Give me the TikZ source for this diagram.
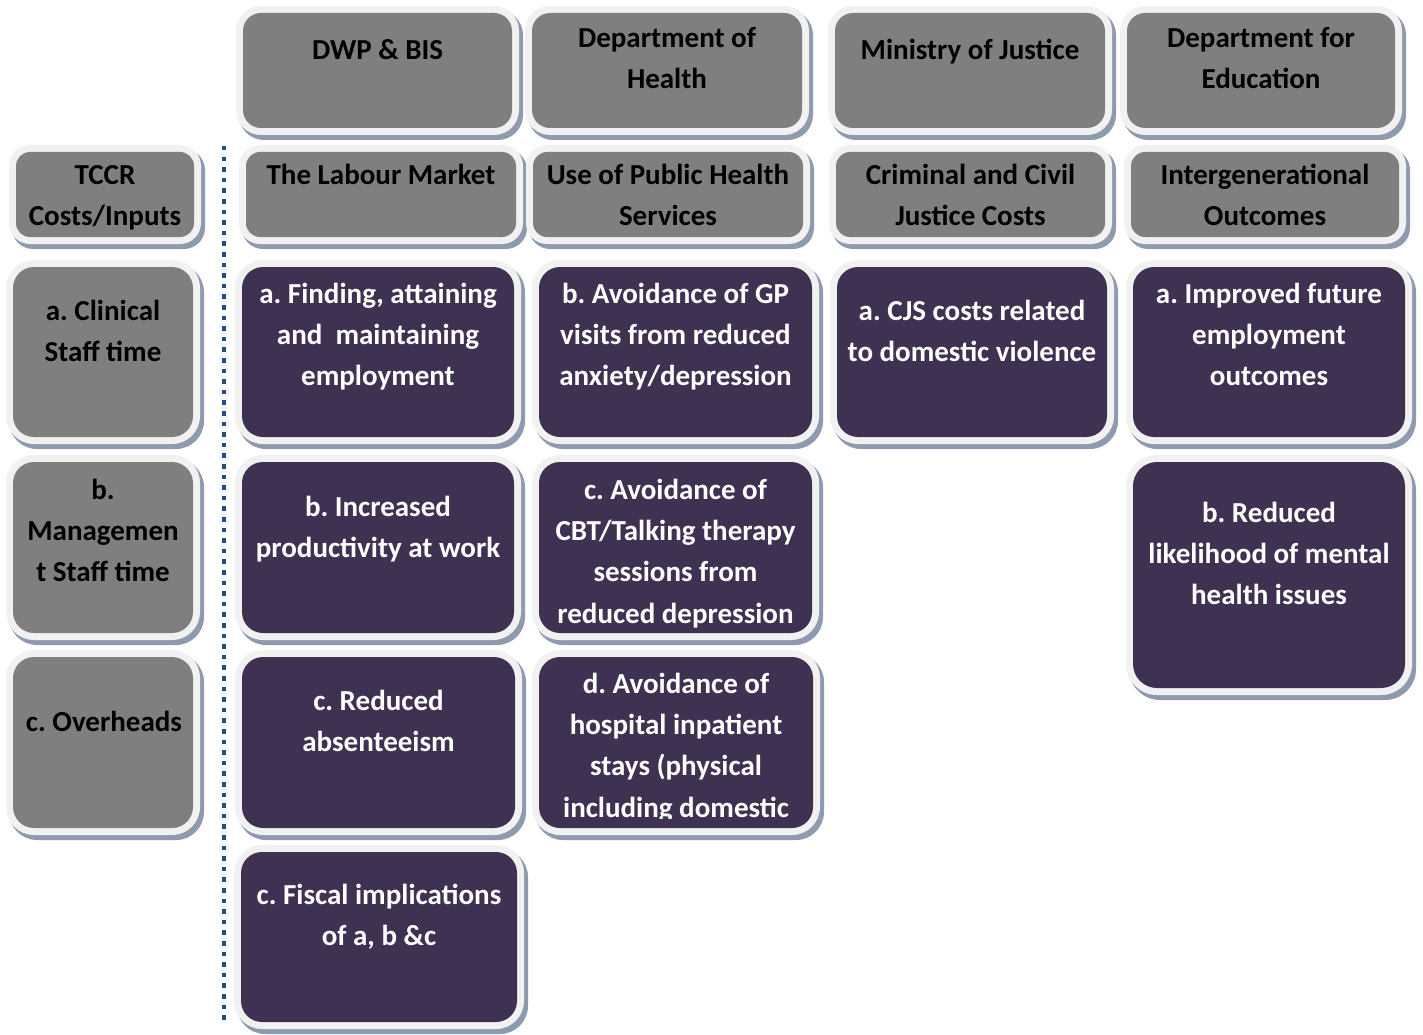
\documentclass[tikz,border=0pt]{standalone}
\usepackage{fontspec}
\setmainfont{Carlito}
\frenchspacing
\definecolor{framecol}{HTML}{F1F1F1}
\definecolor{shadowcol}{HTML}{8E9BAF}
\definecolor{grayfill}{HTML}{7F7F7F}
\definecolor{purplefill}{HTML}{3F3151}
\definecolor{dotcol}{HTML}{1F4E8A}
\tikzset{
  graybox/.style={fill=grayfill, inner sep=0pt, outer sep=0pt},
  purplebox/.style={fill=purplefill, inner sep=0pt, outer sep=0pt},
  celltext/.style={align=center, inner sep=0pt, anchor=north,
    font=\fontsize{29}{41.3}\selectfont\bfseries\frenchspacing},
  divider/.style={draw=dotcol, line width=4.5pt, dash pattern=on 4.5pt off 6.1pt}
}
% #1 name, #2 x1, #3 y1, #4 x2, #5 y2, #6 box style, #7 corner radius
\newcommand\mkcell[7]{%
  \pgfmathsetmacro\cbw{#4-(#2)}%
  \pgfmathsetmacro\cbh{#5-(#3)}%
  \pgfmathsetmacro\cbx{(#2+#4)/2}%
  \pgfmathsetmacro\cby{(#3+#5)/2}%
  \pgfmathsetmacro\cbr{#7+7}%
  \fill[shadowcol, rounded corners=\cbr pt] (#2-4,#3-3) rectangle (#4+11,#5+12);
  \fill[framecol, rounded corners=\cbr pt] (#2-7,#3-7) rectangle (#4+7,#5+7);
  \node[#6, rounded corners=#7pt, minimum width=\cbw pt, minimum height=\cbh pt] (#1) at (\cbx,\cby) {};
}
% #1 name, #2 x centre, #3 first baseline, #4 colour, #5 text
\newcommand\mktext[5]{%
  \node[celltext, text=#4] (#1) at (#2,#3-30) {\rule{0pt}{30pt}#5};
}
\begin{document}
\begin{tikzpicture}[x=1pt,y=-1pt]
\useasboundingbox (0,0) rectangle (1423,1035);
\fill[white] (0,0) rectangle (1423,1035);

% divider
\coordinate (dtop) at (224,146);
\coordinate (dbot) at (224,1024);
\draw[divider] (dtop) -- (dbot);

% row 0 : departments
\mkcell{h1}{243}{13}{512}{128}{graybox}{18}
\mkcell{h2}{532}{13}{802}{128}{graybox}{18}
\mkcell{h3}{835}{13}{1105}{128}{graybox}{18}
\mkcell{h4}{1127}{13}{1395}{128}{graybox}{18}
\mktext{th1}{377.5}{59}{black}{DWP \& BIS}
\mktext{th2}{667}{47}{black}{Department of\\Health}
\mktext{th3}{970}{59}{black}{Ministry of Justice}
\mktext{th4}{1261}{47}{black}{Department for\\Education}

% row 1 : categories
\mkcell{c0}{16}{152}{194}{237}{graybox}{14}
\mkcell{c1}{246}{152}{516}{237}{graybox}{14}
\mkcell{c2}{533}{152}{803}{237}{graybox}{14}
\mkcell{c3}{836}{152}{1105}{237}{graybox}{14}
\mkcell{c4}{1131}{152}{1399}{237}{graybox}{14}
\mktext{tc0}{105}{184}{black}{TCCR\\Costs/Inputs}
\mktext{tc1}{381}{184}{black}{The Labour Market}
\mktext{tc2}{668}{184}{black}{Use of Public Health\\Services}
\mktext{tc3}{970.5}{184}{black}{Criminal and Civil\\Justice Costs}
\mktext{tc4}{1265}{184}{black}{Intergenerational\\Outcomes}

% column 0 : inputs
\mkcell{g1}{13}{267}{193}{437}{graybox}{21}
\mkcell{g2}{13}{462}{193}{633}{graybox}{21}
\mkcell{g3}{13}{657}{193}{828}{graybox}{21}
\mktext{tg1}{103}{320}{black}{a. Clinical\\Staff time}
\mktext{tg2}{103}{499}{black}{b.\\Managemen\\t Staff time}
\mktext{tg3}{104}{731}{black}{c. Overheads}

% column 1 : labour market
\mkcell{p11}{242}{267}{514}{437}{purplebox}{21}
\mkcell{p12}{242}{462}{514}{633}{purplebox}{21}
\mkcell{p13}{242}{657}{515}{828}{purplebox}{21}
\mkcell{p14}{241}{852}{517}{1022}{purplebox}{21}
\mktext{tp11}{378}{303}{white}{a. Finding, attaining\\and\ \ maintaining\\employment}
\mktext{tp12}{378}{516}{white}{b. Increased\\productivity at work}
\mktext{tp13}{378.5}{710}{white}{c. Reduced\\absenteeism}
\mktext{tp14}{379}{904}{white}{c. Fiscal implications\\of a, b \&c}

% column 2 : public health services
\mkcell{p21}{539}{267}{812}{437}{purplebox}{21}
\mkcell{p22}{539}{462}{812}{633}{purplebox}{21}
\mkcell{p23}{539}{657}{813}{828}{purplebox}{21}
\mktext{tp21}{675.5}{303}{white}{b. Avoidance of GP\\visits from reduced\\anxiety/depression}
\mktext{tp22}{675.5}{499}{white}{c. Avoidance of\\CBT/Talking therapy\\sessions from\\reduced depression}
\begin{scope}
  \clip (539,657) rectangle (813,818);
  \mktext{tp23}{676}{693}{white}{d. Avoidance of\\hospital inpatient\\stays (physical\\including domestic}
\end{scope}

% column 3 : justice
\mkcell{p31}{837}{267}{1107}{437}{purplebox}{21}
\mktext{tp31}{972}{320}{white}{a. CJS costs related\\to domestic violence}

% column 4 : intergenerational
\mkcell{p41}{1133}{267}{1405}{437}{purplebox}{21}
\mkcell{p42}{1133}{462}{1405}{688}{purplebox}{24}
\mktext{tp41}{1269}{303}{white}{a. Improved future\\employment\\outcomes}
\mktext{tp42}{1269}{522}{white}{b. Reduced\\likelihood of mental\\health issues}
\end{tikzpicture}
\end{document}
